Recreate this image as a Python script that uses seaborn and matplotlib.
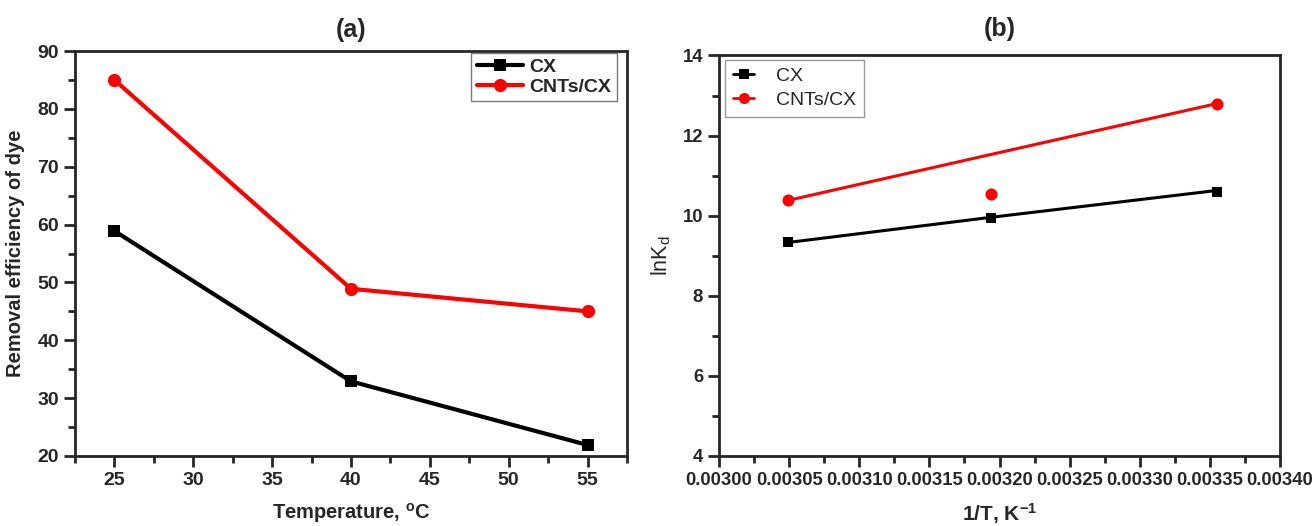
import numpy as np
import pandas as pd
import seaborn as sns
import matplotlib
matplotlib.use("Agg")
import matplotlib.pyplot as plt
from matplotlib.ticker import MultipleLocator, FormatStrFormatter
from matplotlib.lines import Line2D

# ---------------- data ----------------
temps = [25, 40, 55]
cx_removal = [58.9, 32.9, 21.9]
cnt_removal = [85.0, 48.9, 45.0]

inv_T = [0.003049, 0.003194, 0.003355]
cx_lnkd = [9.35, 9.95, 10.60]
cnt_lnkd = [10.40, 10.55, 12.80]
cx_fit = [9.33, 9.96, 10.63]
cnt_fit = [10.38, 11.53, 12.80]

series_names = ["CX", "CNTs/CX"]
colors = {"CX": "black", "CNTs/CX": "#ff0000"}

# ---------------- style ----------------
sns.set_theme(style="ticks")
plt.rcParams["font.family"] = ["Liberation Sans", "DejaVu Sans"]
plt.rcParams["mathtext.default"] = "regular"
plt.rcParams["axes.linewidth"] = 2.0

fig = plt.figure(figsize=(13.13, 5.26), dpi=100)
axA = fig.add_axes([0.0571, 0.1331, 0.4204, 0.7699])
axB = fig.add_axes([0.5476, 0.1331, 0.4273, 0.7614])

# ---------------- panel (a) ----------------
dfa = pd.DataFrame({
    "T": temps * 2,
    "val": cx_removal + cnt_removal,
    "s": ["CX"] * 3 + ["CNTs/CX"] * 3,
})
for name, mk, ms in [("CX", "s", 8.5), ("CNTs/CX", "o", 9.5)]:
    d = dfa[dfa.s == name]
    sns.lineplot(data=d, x="T", y="val", ax=axA, color=colors[name], lw=3,
                 marker=mk, markersize=ms, markeredgewidth=0, label=name)

axA.set_xlim(22.5, 57.5)
axA.set_ylim(20, 90)
axA.xaxis.set_major_locator(MultipleLocator(5))
axA.xaxis.set_minor_locator(MultipleLocator(2.5))
axA.yaxis.set_major_locator(MultipleLocator(10))
axA.yaxis.set_minor_locator(MultipleLocator(5))
axA.tick_params(which="major", length=8, width=2, labelsize=14, direction="out")
axA.tick_params(which="minor", length=5, width=2, direction="out")
for lab in axA.get_xticklabels() + axA.get_yticklabels():
    lab.set_fontweight("bold")
axA.set_xlabel("Temperature, $^{o}$C", fontsize=14.5, fontweight="bold", labelpad=9)
axA.set_ylabel("Removal efficiency of dye", fontsize=14.5, fontweight="bold", labelpad=9)
axA.set_title("(a)", fontsize=18, fontweight="bold", pad=10)
legA = axA.legend(loc="upper right", bbox_to_anchor=(0.982, 0.996), borderaxespad=0,
                  fancybox=False, edgecolor="0.35", handlelength=2.4, handletextpad=0.3,
                  labelspacing=0.1, borderpad=0.3, prop={"size": 14, "weight": "bold"})
legA.get_frame().set_linewidth(1.0)

# ---------------- panel (b) ----------------
dfb = pd.DataFrame({
    "x": inv_T * 2,
    "y": cx_lnkd + cnt_lnkd,
    "fit": cx_fit + cnt_fit,
    "s": ["CX"] * 3 + ["CNTs/CX"] * 3,
})
for name, mk, ms in [("CX", "s", 60), ("CNTs/CX", "o", 75)]:
    d = dfb[dfb.s == name]
    sns.lineplot(data=d, x="x", y="fit", ax=axB, color=colors[name], lw=2.2)
    sns.scatterplot(data=d, x="x", y="y", ax=axB, color=colors[name], marker=mk,
                    s=ms, linewidth=0, zorder=5)

axB.set_xlim(0.00300, 0.00340)
axB.set_ylim(4, 14)
axB.xaxis.set_major_locator(MultipleLocator(0.00005))
axB.xaxis.set_minor_locator(MultipleLocator(0.000025))
axB.xaxis.set_major_formatter(FormatStrFormatter("%.5f"))
axB.yaxis.set_major_locator(MultipleLocator(2))
axB.yaxis.set_minor_locator(MultipleLocator(1))
axB.tick_params(which="major", length=8, width=2, labelsize=13.3, direction="out")
axB.tick_params(which="minor", length=5, width=2, direction="out")
for lab in axB.get_xticklabels() + axB.get_yticklabels():
    lab.set_fontweight("bold")
axB.set_xlabel("1/T, K$^{-1}$", fontsize=15, fontweight="bold", labelpad=9)
axB.set_ylabel("lnK$_{d}$", fontsize=15.5, labelpad=7)
axB.set_title("(b)", fontsize=18, fontweight="bold", pad=14)
handles = [
    Line2D([], [], color="black", lw=2, marker="s", markersize=7, markeredgewidth=0),
    Line2D([], [], color="#ff0000", lw=2, marker="o", markersize=8, markeredgewidth=0),
]
legB = axB.legend(handles, series_names, loc="upper left", bbox_to_anchor=(0.011, 0.989),
                  borderaxespad=0, fancybox=False, edgecolor="0.5", handlelength=1.1,
                  handletextpad=1.1, labelspacing=0.3, borderpad=0.4,
                  prop={"size": 14})
legB.get_frame().set_linewidth(1.0)

fig.savefig("out.png", dpi=100)
